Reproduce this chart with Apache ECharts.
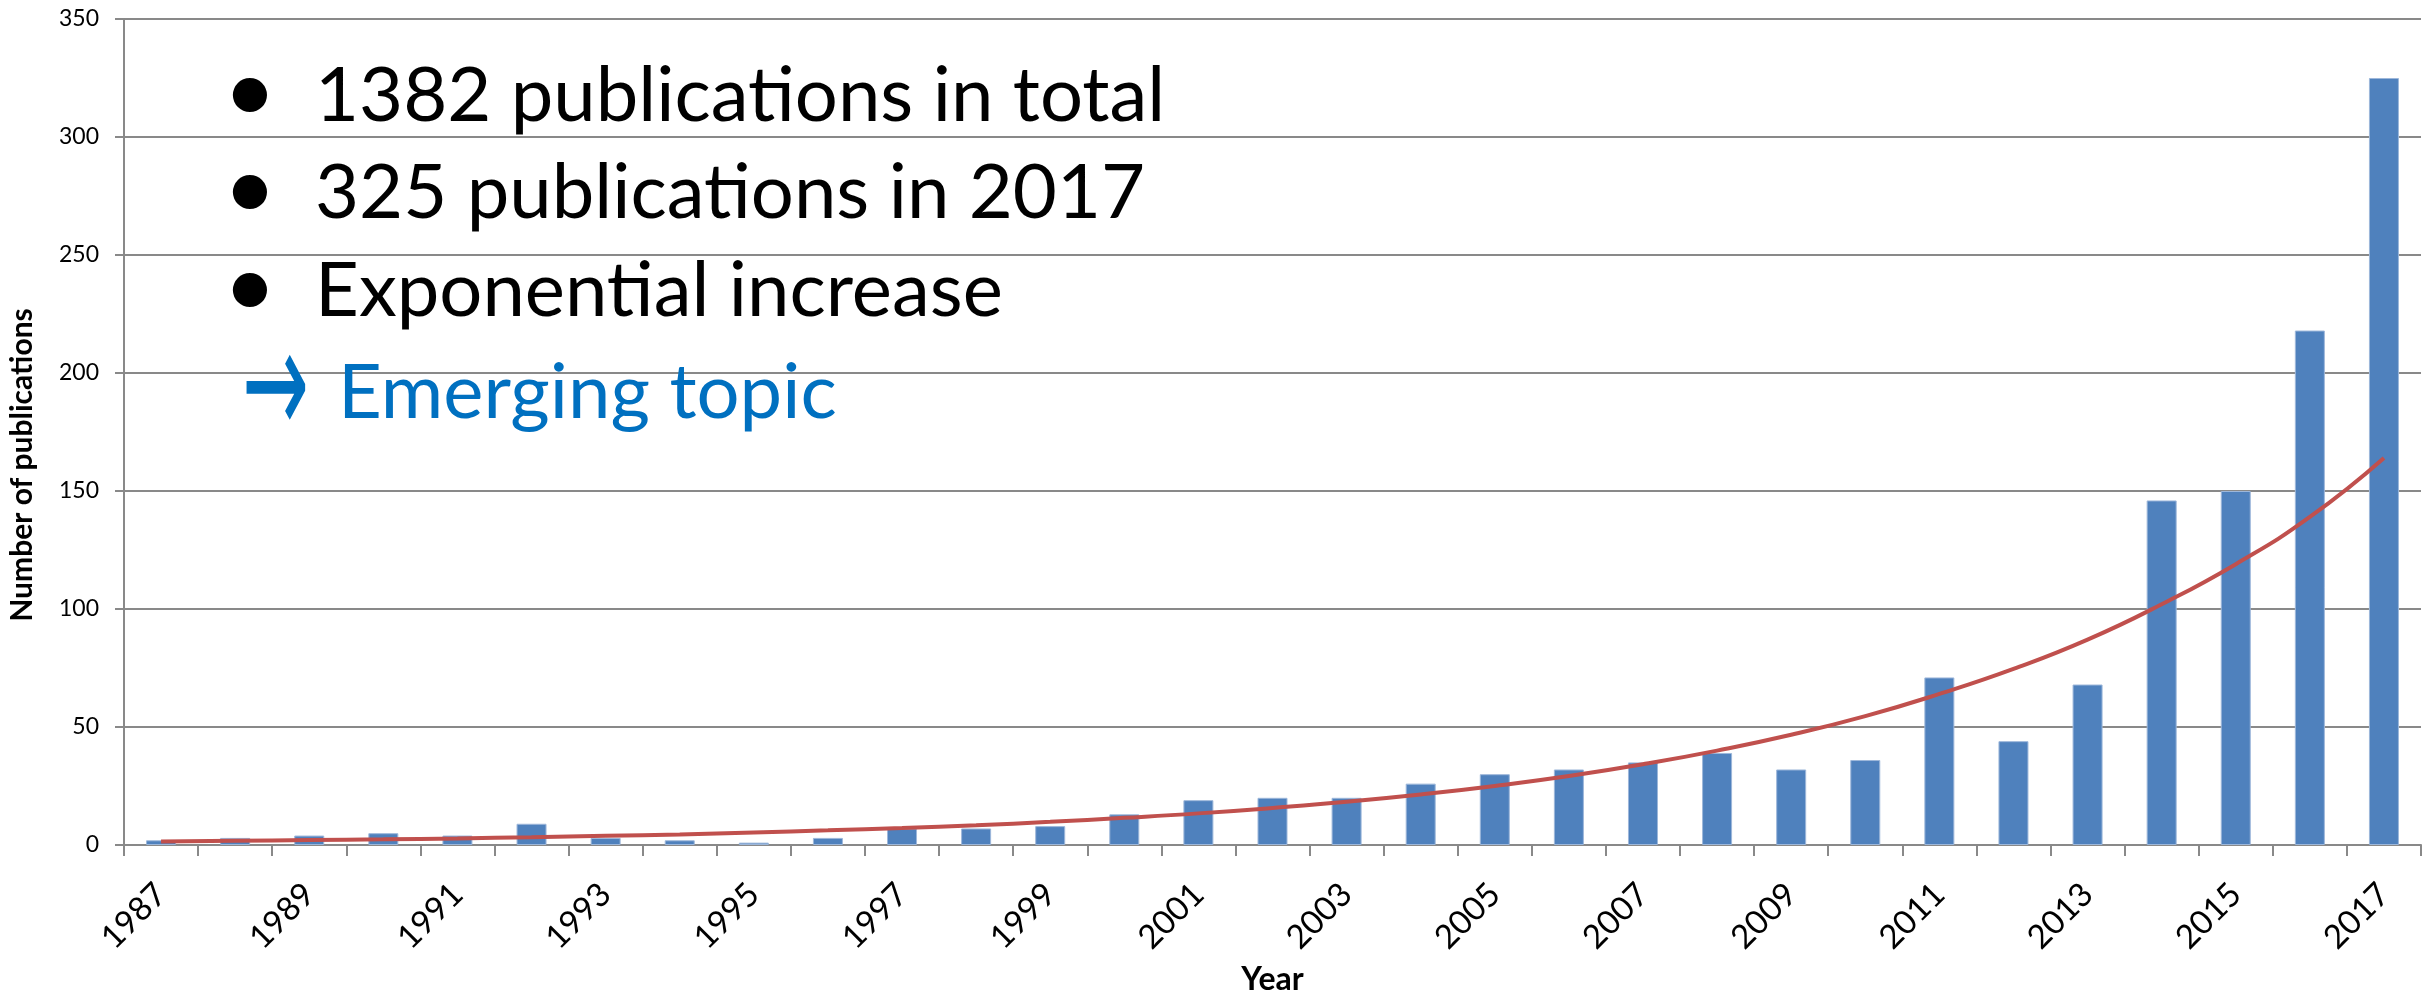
<!DOCTYPE html>
<html>
<head>
<meta charset="utf-8">
<script src="https://cdn.jsdelivr.net/npm/echarts@6/dist/echarts.min.js"></script>
<style>
html,body{margin:0;padding:0;background:#fff;}
#chart{width:2425px;height:996px;}
</style>
</head>
<body>
<div id="chart"></div>
<script>
// ---- data ----
const years = ['1987','1988','1989','1990','1991','1992','1993','1994','1995','1996',
  '1997','1998','1999','2000','2001','2002','2003','2004','2005','2006',
  '2007','2008','2009','2010','2011','2012','2013','2014','2015','2016','2017'];
const publications = [2,3,4,5,4,9,3,2,1,3,
  7,7,8,13,19,20,20,26,30,32,
  35,39,32,36,71,44,68,146,150,218,325];
// exponential trend line
const trend = [1.5,1.8,2.1,2.4,2.8,3.3,3.9,4.5,5.3,6.2,
  7.2,8.4,9.8,11.5,13.4,15.7,18.3,21.4,25,29.2,
  34.2,40,46.7,54.6,64,74.6,87,102,119,139,164];
const yTicks = {min: 0, max: 350, interval: 50};
const bulletLines = ['1382 publications in total', '325 publications in 2017', 'Exponential increase'];
const conclusionText = 'Emerging topic';
const arrowText = '\u2192';
const bulletChar = '\u2022';
const xAxisTitle = 'Year';
const yAxisTitle = 'Number of publications';

// ---- styling ----
const FONT = 'Lato, "Open Sans", sans-serif';
const GRID_COLOR = '#898989';
const BAR_COLOR = '#4F81BD';
const TREND_COLOR = '#C0504D';
const BODY_FS = 76;
const LINE_BASELINES = [120, 217.5, 315];
const TEXT_OFF = 24;    // baseline -> middle offset for body text
const BULLET_OFF = 28;  // baseline -> bullet centre offset

const chart = echarts.init(document.getElementById('chart'), null, {renderer: 'canvas'});

const graphics = [];
bulletLines.forEach((t, i) => {
  graphics.push({
    type: 'text', x: 250, y: LINE_BASELINES[i] - BULLET_OFF, z: 100,
    style: {text: bulletChar, fill: '#000', font: '92px ' + FONT, align: 'center', verticalAlign: 'middle'}
  });
  graphics.push({
    type: 'text', x: 315, y: LINE_BASELINES[i] - TEXT_OFF, z: 100,
    style: {text: t, fill: '#000', font: BODY_FS + 'px ' + FONT, align: 'left', verticalAlign: 'middle'}
  });
});
graphics.push({
  type: 'text', x: 242, y: 396, z: 100, scaleY: 1.9, originX: 0, originY: 0,
  style: {text: arrowText, fill: '#0070C0', font: '80px "DejaVu Sans", sans-serif', align: 'left', verticalAlign: 'middle'}
});
graphics.push({
  type: 'text', x: 338, y: 417 - TEXT_OFF, z: 100,
  style: {text: conclusionText, fill: '#0070C0', font: BODY_FS + 'px ' + FONT, align: 'left', verticalAlign: 'middle'}
});

const option = {
  backgroundColor: '#ffffff',
  animation: false,
  grid: {left: 124, right: 4, top: 19, bottom: 151, containLabel: false, outerBoundsMode: 'none'},
  xAxis: {
    type: 'category',
    data: years,
    boundaryGap: true,
    name: xAxisTitle,
    nameLocation: 'middle',
    nameGap: 119,
    nameTextStyle: {fontFamily: FONT, fontWeight: 'bold', fontSize: 32, color: '#000'},
    axisLine: {show: true, lineStyle: {color: GRID_COLOR, width: 2}},
    axisTick: {show: true, interval: 0, length: 11, lineStyle: {color: GRID_COLOR, width: 2}},
    axisLabel: {interval: 1, rotate: 45, margin: 44, fontFamily: FONT, fontSize: 33, color: '#000'},
    splitLine: {show: false}
  },
  yAxis: {
    type: 'value',
    min: yTicks.min, max: yTicks.max, interval: yTicks.interval,
    name: yAxisTitle,
    nameLocation: 'middle',
    nameRotate: 90,
    nameGap: 87,
    nameTextStyle: {fontFamily: FONT, fontWeight: 'bold', fontSize: 30, color: '#000', padding: [0, 66, 0, 0]},
    axisLine: {show: true, lineStyle: {color: GRID_COLOR, width: 2}},
    axisTick: {show: true, inside: false, length: 9, lineStyle: {color: GRID_COLOR, width: 2}},
    axisLabel: {margin: 25, fontFamily: FONT, fontSize: 23, color: '#000'},
    splitLine: {show: true, lineStyle: {color: GRID_COLOR, width: 2}}
  },
  series: [
    {
      name: 'Publications', type: 'bar', data: publications, barWidth: 30,
      itemStyle: {color: BAR_COLOR, borderColor: '#9DB7DA', borderWidth: 1}, z: 2
    },
    {
      name: 'Trend', type: 'line', data: trend, smooth: true, showSymbol: false, symbol: 'none',
      lineStyle: {color: TREND_COLOR, width: 4}, z: 3
    }
  ],
  graphic: graphics
};
chart.setOption(option);
</script>
</body>
</html>
